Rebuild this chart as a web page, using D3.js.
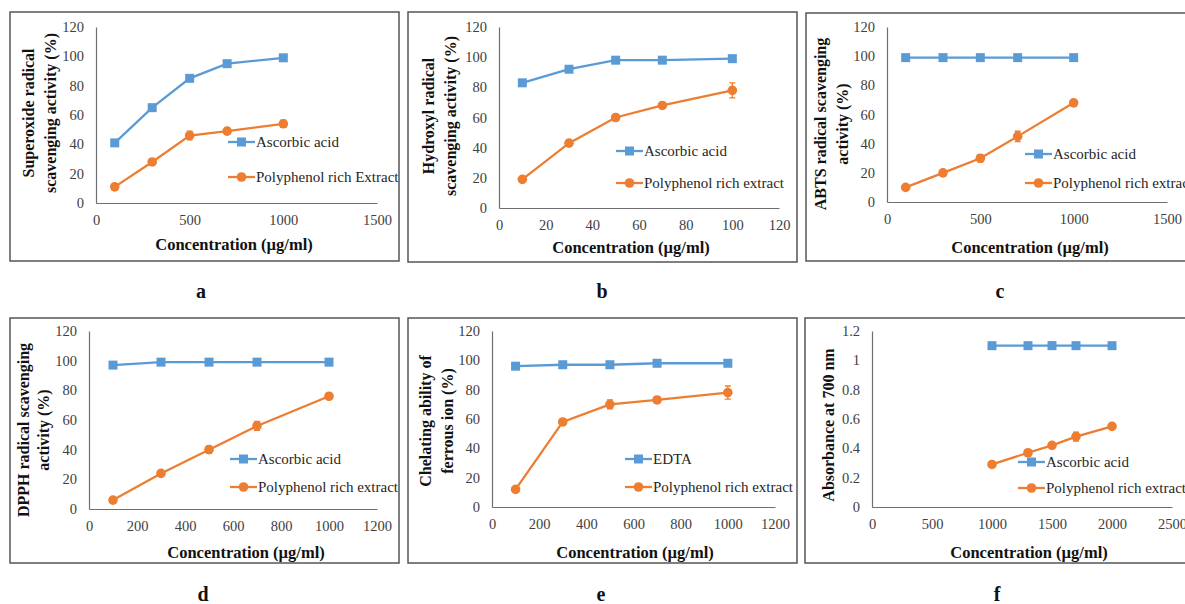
<!DOCTYPE html>
<html lang="en">
<head>
  <meta charset="UTF-8" />
  <title>Antioxidant activity panels</title>
  <script src="https://d3js.org/d3.v7.min.js"></script>
  <style>
    html, body { margin: 0; padding: 0; background: #fff; }
    svg { display: block; }
    svg text { font-family: "Liberation Serif", "Times New Roman", serif; }
    .tick text { fill: #404040; font-size: 14.5px; }
    .axis path { stroke: #6e6e6e; stroke-width: 1.2px; }
    .legend text { fill: #262626; font-size: 15px; }
    .title { font-weight: bold; fill: #111; font-size: 16px; }
    .title.xt { font-size: 16.5px; }
    .panel-label { font-weight: bold; fill: #111; font-size: 20px; }
  </style>
</head>
<body>
<svg width="1185" height="604"></svg>
<script>
  // ---------------------------------------------------------
  // Data
  // ---------------------------------------------------------
  const BLUE = "#5b9bd5";
  const ORANGE = "#ed7d31";

  // a) superoxide
  const concA = [100, 300, 500, 700, 1000];
  const ascA = [41, 65, 85, 95, 99];
  const ascErrA = [1, 1.5, 1.5, 1, 1];
  const polyA = [11, 28, 46, 49, 54];
  const polyErrA = [1, 1.5, 3, 2, 2.5];

  // b) hydroxyl
  const concB = [10, 30, 50, 70, 100];
  const ascB = [83, 92, 98, 98, 99];
  const ascErrB = [1, 1.5, 1.5, 2, 1];
  const polyB = [19, 43, 60, 68, 78];
  const polyErrB = [1, 2, 1, 2, 5];

  // c) ABTS
  const concC = [100, 300, 500, 700, 1000];
  const ascC = [99, 99, 99, 99, 99];
  const ascErrC = [0.5, 0.5, 0.5, 0.5, 0.5];
  const polyC = [10, 20, 30, 45, 68];
  const polyErrC = [1, 1, 2.5, 3.5, 1.5];

  // d) DPPH
  const concD = [100, 300, 500, 700, 1000];
  const ascD = [97, 99, 99, 99, 99];
  const ascErrD = [0.5, 1, 0.5, 1, 0.5];
  const polyD = [6, 24, 40, 56, 76];
  const polyErrD = [2, 1.5, 2.5, 3, 1.5];

  // e) ferrous ion chelating
  const concE = [100, 300, 500, 700, 1000];
  const edtaE = [96, 97, 97, 98, 98];
  const edtaErrE = [1, 2, 1, 1, 1.5];
  const polyE = [12, 58, 70, 73, 78];
  const polyErrE = [1, 1, 3, 2, 4.5];

  // f) reducing power
  const concF = [1000, 1300, 1500, 1700, 2000];
  const ascF = [1.1, 1.1, 1.1, 1.1, 1.1];
  const ascErrF = [0.01, 0.01, 0.025, 0.01, 0.01];
  const polyF = [0.29, 0.37, 0.42, 0.48, 0.55];
  const polyErrF = [0.01, 0.02, 0.01, 0.03, 0.01];

  // tick labels
  const xTicksA = [0, 500, 1000, 1500];
  const xTicksB = [0, 20, 40, 60, 80, 100, 120];
  const xTicks1200 = [0, 200, 400, 600, 800, 1000, 1200];
  const xTicksF = [0, 500, 1000, 1500, 2000, 2500];
  const yTicksPct = [0, 20, 40, 60, 80, 100, 120];
  const yTicksAbs = [0, 0.2, 0.4, 0.6, 0.8, 1, 1.2];

  const xTitle = "Concentration (\u00b5g/ml)";

  // ---------------------------------------------------------
  // Panel layout
  // ---------------------------------------------------------
  const panels = [
    { label: "a", frame: [10, 12, 389, 249], labelPos: [201, 298],
      plot: { x0: 96, x1: 377, yTop: 27, yBot: 203 }, xMax: 1500, yMax: 120,
      xTicks: xTicksA, yTicks: yTicksPct, x: concA,
      s1: { name: "Ascorbic acid", v: ascA, e: ascErrA },
      s2: { name: "Polyphenol rich Extract", v: polyA, e: polyErrA },
      yTitle: ["Superoxide radical", "scavenging activity (%)"], yTitleX: [28, 50], yTitleY: 113,
      xTitleX: 234, xTitleY: 250, legend: { x: 228, y1: 142, y2: 177 } },
    { label: "b", frame: [408, 12, 389, 250], labelPos: [602, 298],
      plot: { x0: 499, x1: 779, yTop: 27, yBot: 208 }, xMax: 120, yMax: 120,
      xTicks: xTicksB, yTicks: yTicksPct, x: concB,
      s1: { name: "Ascorbic acid", v: ascB, e: ascErrB },
      s2: { name: "Polyphenol rich extract", v: polyB, e: polyErrB },
      yTitle: ["Hydroxyl radical", "scavenging activity (%)"], yTitleX: [428, 450], yTitleY: 116,
      xTitleX: 631, xTitleY: 253, legend: { x: 616, y1: 151, y2: 183 } },
    { label: "c", frame: [806, 13, 400, 248], labelPos: [1000, 298],
      plot: { x0: 887, x1: 1167, yTop: 27, yBot: 202 }, xMax: 1500, yMax: 120,
      xTicks: xTicksA, yTicks: yTicksPct, x: concC,
      s1: { name: "Ascorbic acid", v: ascC, e: ascErrC },
      s2: { name: "Polyphenol rich extract", v: polyC, e: polyErrC },
      yTitle: ["ABTS radical scavenging", "activity (%)"], yTitleX: [820, 842], yTitleY: 124,
      xTitleX: 1030, xTitleY: 253, legend: { x: 1025, y1: 154, y2: 183 } },
    { label: "d", frame: [10, 318, 389, 245], labelPos: [203, 601],
      plot: { x0: 89, x1: 377, yTop: 331, yBot: 509 }, xMax: 1200, yMax: 120,
      xTicks: xTicks1200, yTicks: yTicksPct, x: concD,
      s1: { name: "Ascorbic acid", v: ascD, e: ascErrD },
      s2: { name: "Polyphenol rich extract", v: polyD, e: polyErrD },
      yTitle: ["DPPH radical scavenging", "activity (%)"], yTitleX: [23, 43], yTitleY: 430,
      xTitleX: 246, xTitleY: 558, legend: { x: 230, y1: 459, y2: 487 } },
    { label: "e", frame: [408, 318, 389, 245], labelPos: [601, 601],
      plot: { x0: 492, x1: 775, yTop: 331, yBot: 507 }, xMax: 1200, yMax: 120,
      xTicks: xTicks1200, yTicks: yTicksPct, x: concE,
      s1: { name: "EDTA", v: edtaE, e: edtaErrE },
      s2: { name: "Polyphenol rich extract", v: polyE, e: polyErrE },
      yTitle: ["Chelating ability of", "ferrous ion (%)"], yTitleX: [425, 447], yTitleY: 421,
      xTitleX: 635, xTitleY: 558, legend: { x: 625, y1: 459, y2: 487 } },
    { label: "f", frame: [805, 318, 400, 245], labelPos: [997, 601],
      plot: { x0: 872, x1: 1172, yTop: 331, yBot: 507 }, xMax: 2500, yMax: 1.2,
      xTicks: xTicksF, yTicks: yTicksAbs, x: concF,
      s1: { name: "Ascorbic acid", v: ascF, e: ascErrF },
      s2: { name: "Polyphenol rich extract", v: polyF, e: polyErrF },
      yTitle: ["Absorbance at 700 nm"], yTitleX: [828], yTitleY: 425,
      xTitleX: 1029, xTitleY: 558, legend: { x: 1018, y1: 462, y2: 488 } }
  ];

  const svg = d3.select("svg");

  panels.forEach(p => {
    const g = svg.append("g");

    // outer frame
    g.append("rect")
      .attr("x", p.frame[0]).attr("y", p.frame[1])
      .attr("width", p.frame[2]).attr("height", p.frame[3])
      .attr("fill", "none").attr("stroke", "#555").attr("stroke-width", 1.5);

    const x = d3.scaleLinear().domain([0, p.xMax]).range([p.plot.x0, p.plot.x1]);
    const y = d3.scaleLinear().domain([0, p.yMax]).range([p.plot.yBot, p.plot.yTop]);
    const fmt = d => String(+d.toFixed(1));

    g.append("g").attr("class", "axis")
      .attr("transform", `translate(0,${p.plot.yBot})`)
      .call(d3.axisBottom(x).tickValues(p.xTicks).tickFormat(fmt).tickSize(0).tickPadding(12));
    g.append("g").attr("class", "axis")
      .attr("transform", `translate(${p.plot.x0},0)`)
      .call(d3.axisLeft(y).tickValues(p.yTicks).tickFormat(fmt).tickSize(0).tickPadding(12));

    // titles
    g.append("text").attr("class", "title xt")
      .attr("x", p.xTitleX).attr("y", p.xTitleY)
      .attr("text-anchor", "middle").text(xTitle);
    p.yTitle.forEach((t, i) => {
      g.append("text").attr("class", "title")
        .attr("transform", `translate(${p.yTitleX[i]},${p.yTitleY}) rotate(-90)`)
        .attr("text-anchor", "middle").attr("dominant-baseline", "central")
        .text(t);
    });
    g.append("text").attr("class", "panel-label")
      .attr("x", p.labelPos[0]).attr("y", p.labelPos[1])
      .attr("text-anchor", "middle").text(p.label);

    // series
    const series = [
      { s: p.s1, color: BLUE, shape: "square" },
      { s: p.s2, color: ORANGE, shape: "circle" }
    ];
    const line = d3.line().x(d => x(d[0])).y(d => y(d[1]));

    series.forEach(ser => {
      const pts = p.x.map((c, i) => [c, ser.s.v[i], ser.s.e[i]]);
      g.append("path").datum(pts)
        .attr("d", line).attr("fill", "none")
        .attr("stroke", ser.color).attr("stroke-width", 2.3);

      // error bars
      g.selectAll(null).data(pts).join("path")
        .attr("d", d => {
          const cx = x(d[0]), top = y(d[1] + d[2]), bot = y(d[1] - d[2]);
          return `M${cx},${top}V${bot}M${cx - 3},${top}H${cx + 3}M${cx - 3},${bot}H${cx + 3}`;
        })
        .attr("stroke", ser.color).attr("stroke-width", 1.3).attr("fill", "none");

      drawMarkers(g, pts.map(d => [x(d[0]), y(d[1])]), ser.shape, ser.color);
    });

    // legend
    const lg = g.append("g").attr("class", "legend");
    [[p.legend.y1, series[0]], [p.legend.y2, series[1]]].forEach(([ly, ser]) => {
      lg.append("line")
        .attr("x1", p.legend.x).attr("x2", p.legend.x + 27)
        .attr("y1", ly).attr("y2", ly)
        .attr("stroke", ser.color).attr("stroke-width", 2.3);
      drawMarkers(lg, [[p.legend.x + 13.5, ly]], ser.shape, ser.color);
      lg.append("text")
        .attr("x", p.legend.x + 28).attr("y", ly)
        .attr("dominant-baseline", "central")
        .text(ser.s.name);
    });
  });

  function drawMarkers(g, pts, shape, color) {
    if (shape === "square") {
      g.selectAll(null).data(pts).join("rect")
        .attr("x", d => d[0] - 4.5).attr("y", d => d[1] - 4.5)
        .attr("width", 9).attr("height", 9)
        .attr("fill", color);
    } else {
      g.selectAll(null).data(pts).join("circle")
        .attr("cx", d => d[0]).attr("cy", d => d[1]).attr("r", 4.8)
        .attr("fill", color);
    }
  }
</script>
</body>
</html>
